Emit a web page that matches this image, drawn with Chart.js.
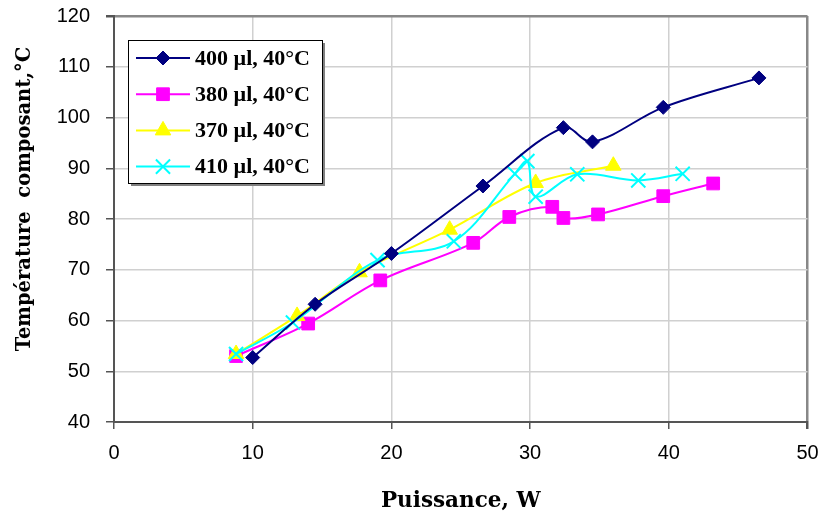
<!DOCTYPE html>
<html>
<head>
<meta charset="utf-8">
<script src="https://cdn.jsdelivr.net/npm/chart.js@4/dist/chart.umd.min.js"></script>
<style>
  body { margin: 0; background: #fff; }
</style>
</head>
<body>
<canvas id="chart" width="824" height="518"></canvas>
<script>
// series names
var seriesNames = ['400 µl, 40°C', '380 µl, 40°C', '370 µl, 40°C', '410 µl, 40°C'];

// Puissance (W) / Température (°C)
var x400 = [10.0, 14.5, 20.0, 26.6, 32.4, 34.5, 39.6, 46.5];
var y400 = [52.7, 63.2, 73.2, 86.5, 98.0, 95.2, 102.0, 107.8];

var x380 = [8.8, 14.0, 19.2, 25.9, 28.5, 31.6, 32.4, 34.9, 39.6, 43.2];
var y380 = [53.0, 59.4, 67.9, 75.3, 80.4, 82.4, 80.2, 80.9, 84.5, 87.0];

var x370 = [8.8, 13.2, 17.7, 24.2, 30.4, 36.0];
var y370 = [53.4, 60.9, 69.5, 77.9, 87.1, 90.5];

var x410 = [8.8, 12.9, 19.0, 24.5, 28.9, 29.8, 30.4, 33.4, 37.8, 41.0];
var y410 = [53.4, 59.6, 71.9, 75.6, 88.9, 91.4, 84.4, 88.8, 87.6, 88.9];

var xTicks = [0, 10, 20, 30, 40, 50];
var yTicks = [40, 50, 60, 70, 80, 90, 100, 110, 120];

var xTitle = 'Puissance, W';
var yTitle = 'Température  composant,°C';

function pts(xs, ys) {
    return xs.map(function (x, i) { return { x: x, y: ys[i] }; });
}

// legend drawn inside the plot, like the original; y title drawn here too
var boxLegend = {
    id: 'boxLegend',
    afterDraw: function (chart) {
        var ctx = chart.ctx;
        var x = 128, y = 40, w = 194, h = 143;
        ctx.save();
        ctx.fillStyle = '#808080';
        ctx.fillRect(x + 3, y + 3, w, h);
        ctx.fillStyle = '#fff';
        ctx.fillRect(x, y, w, h);
        ctx.strokeStyle = '#000';
        ctx.lineWidth = 1;
        ctx.strokeRect(x + 0.5, y + 0.5, w, h);
        chart.data.datasets.forEach(function (ds, i) {
            var cy = 58 + i * 36.2;
            ctx.strokeStyle = ds.borderColor;
            ctx.lineWidth = 2;
            ctx.beginPath();
            ctx.moveTo(136, cy);
            ctx.lineTo(190, cy);
            ctx.stroke();
            ctx.fillStyle = ds.pointBackgroundColor;
            ctx.strokeStyle = ds.pointBorderColor;
            ctx.lineWidth = ds.pointBorderWidth;
            Chart.helpers.drawPoint(ctx, {
                pointStyle: ds.pointStyle,
                radius: ds.pointRadius,
                borderWidth: ds.pointBorderWidth,
                rotation: 0
            }, 163, cy);
            ctx.fillStyle = '#000';
            ctx.font = 'bold 22px "Liberation Serif"';
            ctx.textBaseline = 'middle';
            ctx.textAlign = 'left';
            ctx.fillText(ds.label, 195, cy + 1);
        });

        ctx.translate(25, 199);
        ctx.rotate(-Math.PI / 2);
        ctx.fillStyle = '#000';
        ctx.font = 'bold 19.5px "DejaVu Serif"';
        ctx.textAlign = 'center';
        ctx.textBaseline = 'middle';
        ctx.fillText(yTitle, 0, 0);
        ctx.restore();
    }
};

function makeSet(label, data, color, style, radius, order) {
    return {
        label: label,
        data: data,
        borderColor: color,
        backgroundColor: color,
        borderWidth: 2,
        pointStyle: style,
        pointRadius: radius,
        pointHoverRadius: radius,
        pointBackgroundColor: color,
        pointBorderColor: color,
        pointBorderWidth: style === 'crossRot' ? 2 : 1,
        tension: 0.35,
        order: order
    };
}

new Chart(document.getElementById('chart'), {
    type: 'line',
    data: {
        datasets: [
            makeSet(seriesNames[0], pts(x400, y400), '#000080', 'rectRot', 7, 0),
            makeSet(seriesNames[1], pts(x380, y380), '#ff00ff', 'rect', 9, 3),
            makeSet(seriesNames[2], pts(x370, y370), '#ffff00', 'triangle', 9, 2),
            makeSet(seriesNames[3], pts(x410, y410), '#00ffff', 'crossRot', 10, 1)
        ]
    },
    options: {
        responsive: false,
        animation: false,
        events: [],
        layout: { padding: { left: 0, top: 16, right: 16.5, bottom: 0 } },
        plugins: {
            legend: { display: false },
            tooltip: { enabled: false }
        },
        scales: {
            x: {
                type: 'linear',
                min: 0,
                max: 50,
                afterBuildTicks: function (s) { s.ticks = xTicks.map(function (v) { return { value: v }; }); },
                afterFit: function (s) {
                    s.height = 96;
                    s.paddingLeft = 0;
                    s.paddingRight = 0;
                },
                ticks: {
                    color: '#000',
                    font: { family: 'Liberation Sans', size: 20 },
                    padding: 12,
                    maxRotation: 0
                },
                grid: {
                    color: function (c) { return c.tick && c.tick.value === 50 ? '#888' : '#d0d0d0'; },
                    lineWidth: function (c) { return c.tick && c.tick.value === 50 ? 2.5 : 1.5; },
                    tickColor: '#555',
                    tickLength: 7
                },
                border: { color: '#555', width: 2 },
                title: {
                    display: true,
                    text: xTitle,
                    color: '#000',
                    font: { family: 'DejaVu Serif', size: 21.5, weight: 'bold' },
                    padding: { top: 0, bottom: 4 }
                }
            },
            y: {
                min: 40,
                max: 120,
                afterBuildTicks: function (s) { s.ticks = yTicks.map(function (v) { return { value: v }; }); },
                afterFit: function (s) {
                    s.width = 114;
                    s.paddingTop = 0;
                    s.paddingBottom = 0;
                },
                ticks: {
                    color: '#000',
                    font: { family: 'Liberation Sans', size: 20 },
                    padding: 16
                },
                grid: {
                    color: function (c) { return c.tick && c.tick.value === 120 ? '#888' : '#d0d0d0'; },
                    lineWidth: function (c) { return c.tick && c.tick.value === 120 ? 2.5 : 1.5; },
                    tickColor: '#555',
                    tickLength: 8
                },
                border: { color: '#555', width: 2 }
            }
        }
    },
    plugins: [boxLegend]
});
</script>
</body>
</html>
